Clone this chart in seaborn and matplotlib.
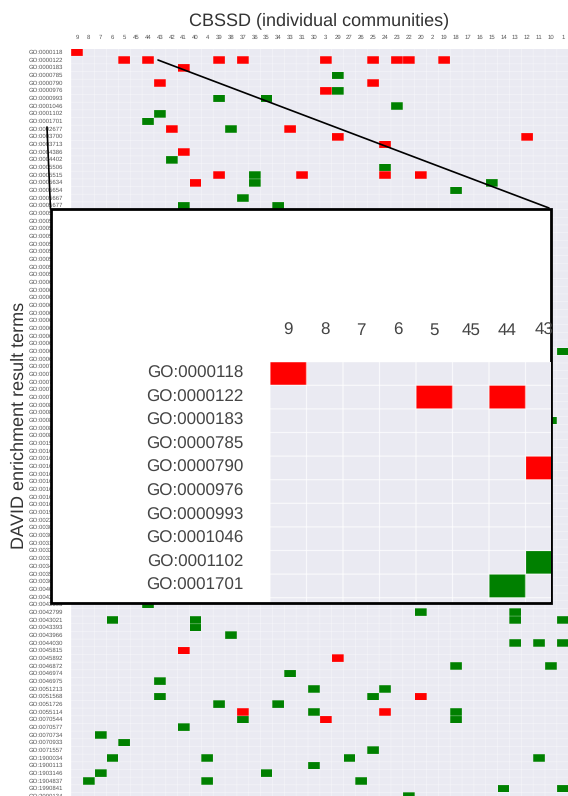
import matplotlib
matplotlib.use('Agg')
import matplotlib.pyplot as plt
from matplotlib.colors import ListedColormap
from matplotlib.lines import Line2D
from matplotlib.patches import Rectangle
import numpy as np
import pandas as pd
import seaborn as sns

communities = ['9', '8', '7', '6', '5', '45', '44', '43', '42', '41', '40', '4', '39', '38',
               '37', '36', '35', '34', '33', '31', '30', '3', '29', '27', '26', '25', '24', '23',
               '22', '20', '2', '19', '18', '17', '16', '15', '14', '13', '12', '11', '10', '1']

terms_top = ['0000118', '0000122', '0000183', '0000785', '0000790', '0000976', '0000993',
             '0001046', '0001102', '0001701', '0002677', '0003700', '0003713', '0004386',
             '0004402', '0005506', '0005515', '0005634', '0005654', '0005667', '0005677']
# these rows sit behind the inset, only the GO:00 prefix can be seen, so the ids are guesses
terms_hidden = ['0005730', '0005737', '0005739', '0005743', '0005759', '0005789', '0005829',
                '0005840', '0005886', '0006281', '0006351', '0006355', '0006366', '0006457',
                '0006508', '0006511', '0006629', '0006810', '0006886', '0006913', '0007049',
                '0007067', '0007165', '0007186', '0007275', '0008134', '0008152', '0008270',
                '0008380', '0008652', '0015031', '0016020', '0016021', '0016032', '0016071',
                '0016301', '0016491', '0016567', '0016607', '0019899', '0022625', '0030036',
                '0030154', '0031965', '0032259', '0033365', '0034599', '0035556', '0036459',
                '0040029', '0042127']
terms_bottom = ['0042393', '0042799', '0043021', '0043393', '0043966', '0044030', '0045815',
                '0045892', '0046872', '0046974', '0046975', '0051213', '0051568', '0051726',
                '0055114', '0070544', '0070577', '0070734', '0070933', '0071557', '1900034',
                '1900113', '1903146', '1904837', '1990841', '2000134']

# term -> communities
red_hits = {
    '0000118': ['9'],
    '0000122': ['5', '44', '39', '37', '3', '25', '23', '22', '19'],
    '0000183': ['41'],
    '0000790': ['43', '25'],
    '0000976': ['3'],
    '0002677': ['42', '33'],
    '0003700': ['29', '12'],
    '0003713': ['24'],
    '0004386': ['41'],
    '0005515': ['39', '31', '24', '20'],
    '0005634': ['40'],
    '0045815': ['41'],
    '0045892': ['29'],
    '0051568': ['20'],
    '0055114': ['37', '24'],
    '0070544': ['3'],
}
green_hits = {
    '0000785': ['29'],
    '0000976': ['29'],
    '0000993': ['39', '35'],
    '0001046': ['23'],
    '0001102': ['43'],
    '0001701': ['44'],
    '0002677': ['38'],
    '0004402': ['42'],
    '0005506': ['24'],
    '0005515': ['36'],
    '0005634': ['36', '15'],
    '0005654': ['18'],
    '0005667': ['37'],
    '0005677': ['41', '34'],
    '0006886': ['1'],
    '0008270': ['10'],
    '0042393': ['44'],
    '0042799': ['20', '13'],
    '0043021': ['6', '40', '13', '1'],
    '0043393': ['40'],
    '0043966': ['38'],
    '0044030': ['13', '11', '1'],
    '0046872': ['18', '10'],
    '0046974': ['33'],
    '0046975': ['43'],
    '0051213': ['30', '24'],
    '0051568': ['43', '25'],
    '0051726': ['39', '34'],
    '0055114': ['30', '18'],
    '0070544': ['37', '18'],
    '0070577': ['41'],
    '0070734': ['7'],
    '0070933': ['5'],
    '0071557': ['25'],
    '1900034': ['6', '4', '27', '11'],
    '1900113': ['30'],
    '1903146': ['7', '35'],
    '1904837': ['8', '4', '26'],
    '1990841': ['14', '1'],
    '2000134': ['22'],
}

sns.set_theme(style='darkgrid')
plt.rcParams['font.family'] = ['Liberation Sans', 'DejaVu Sans']
plt.rcParams['text.hinting'] = 'no_hinting'
plt.rcParams['text.hinting_factor'] = 1

W, H = 568, 796
CELL_COLORS = ListedColormap(['#008000', '#eaeaf2', '#ff0000'])


def px_box(left, top, right, bottom):
    return [left / W, 1 - bottom / H, (right - left) / W, (bottom - top) / H]


def cell_grid(axes, df, lw, alpha):
    # faint unsnapped lines, the mesh edges of sns.heatmap eat too much of these small cells
    nrows, ncols = df.shape
    vlines = axes.vlines(range(ncols + 1), 0, nrows, color='white', lw=lw, alpha=alpha)
    hlines = axes.hlines(range(nrows + 1), 0, ncols, color='white', lw=lw, alpha=alpha)
    vlines.set_snap(False)
    hlines.set_snap(False)


terms = terms_top + terms_hidden + terms_bottom
labels = ['GO:' + t for t in terms]
matrix = pd.DataFrame(np.zeros((len(labels), len(communities))), index=labels, columns=communities)
for term, comms in red_hits.items():
    matrix.loc['GO:' + term, comms] = 1
for term, comms in green_hits.items():
    matrix.loc['GO:' + term, comms] = -1

fig = plt.figure(figsize=(W / 100, H / 100), dpi=100)

# main heatmap, runs off the bottom of the picture like the screenshot does
ax = fig.add_axes(px_box(71, 48.5, 568.7, 48.5 + 98 * 7.67))
sns.heatmap(matrix, ax=ax, cmap=CELL_COLORS, vmin=-1, vmax=1, cbar=False,
            xticklabels=True, yticklabels=True)
cell_grid(ax, matrix, 0.5, 0.45)
ax.xaxis.tick_top()
ax.set_xlabel('')
ax.set_ylabel('')
ax.tick_params(axis='both', length=0, labelsize=4, labelcolor='#555555', pad=6)
ax.tick_params(axis='x', labelrotation=0)
ax.tick_params(axis='y', labelrotation=0)

fig.text(319.5 / W, 1 - 21 / H, 'CBSSD (individual communities)', ha='center', va='center',
         fontsize=13, color='#333333')
fig.text(19 / W, 1 - 425 / H, 'DAVID enrichment result terms', ha='center', va='center',
         rotation=90, fontsize=13, color='#333333')

# connectors and the white zoom panel
connectors = [((158, 60), (549, 208)), ((47, 127), (50.5, 209))]
for start, end in connectors:
    fig.add_artist(Line2D([start[0] / W, end[0] / W], [1 - start[1] / H, 1 - end[1] / H],
                          color='black', lw=1.2, zorder=5))
px = px_box(50.5, 209, 551, 602.5)
fig.add_artist(Rectangle((px[0], px[1]), px[2], px[3], transform=fig.transFigure,
                         facecolor='white', edgecolor='black', lw=2, zorder=6))

# zoomed view of the top left corner of the same matrix
shown_cols = 7.7
shown_rows = 10.2
zoom = fig.add_axes(px_box(270, 361.7, 270 + shown_cols * 36.5, 361.7 + shown_rows * 23.6), zorder=7)
zoom_matrix = matrix.iloc[:11, :8]
sns.heatmap(zoom_matrix, ax=zoom, cmap=CELL_COLORS, vmin=-1, vmax=1, cbar=False,
            xticklabels=True, yticklabels=True)
cell_grid(zoom, zoom_matrix, 0.9, 0.7)
zoom.set_xlim(0, shown_cols)
zoom.set_ylim(shown_rows, 0)
zoom.xaxis.tick_top()
zoom.set_xlabel('')
zoom.set_ylabel('')
zoom.tick_params(axis='both', length=0, labelsize=12.5, labelcolor='#444444')
zoom.tick_params(axis='x', labelrotation=0, pad=17)
zoom.tick_params(axis='y', labelrotation=0, pad=19)
for tick in zoom.get_yticklabels()[10:]:
    tick.set_visible(False)

fig.savefig('out.png', dpi=100)
